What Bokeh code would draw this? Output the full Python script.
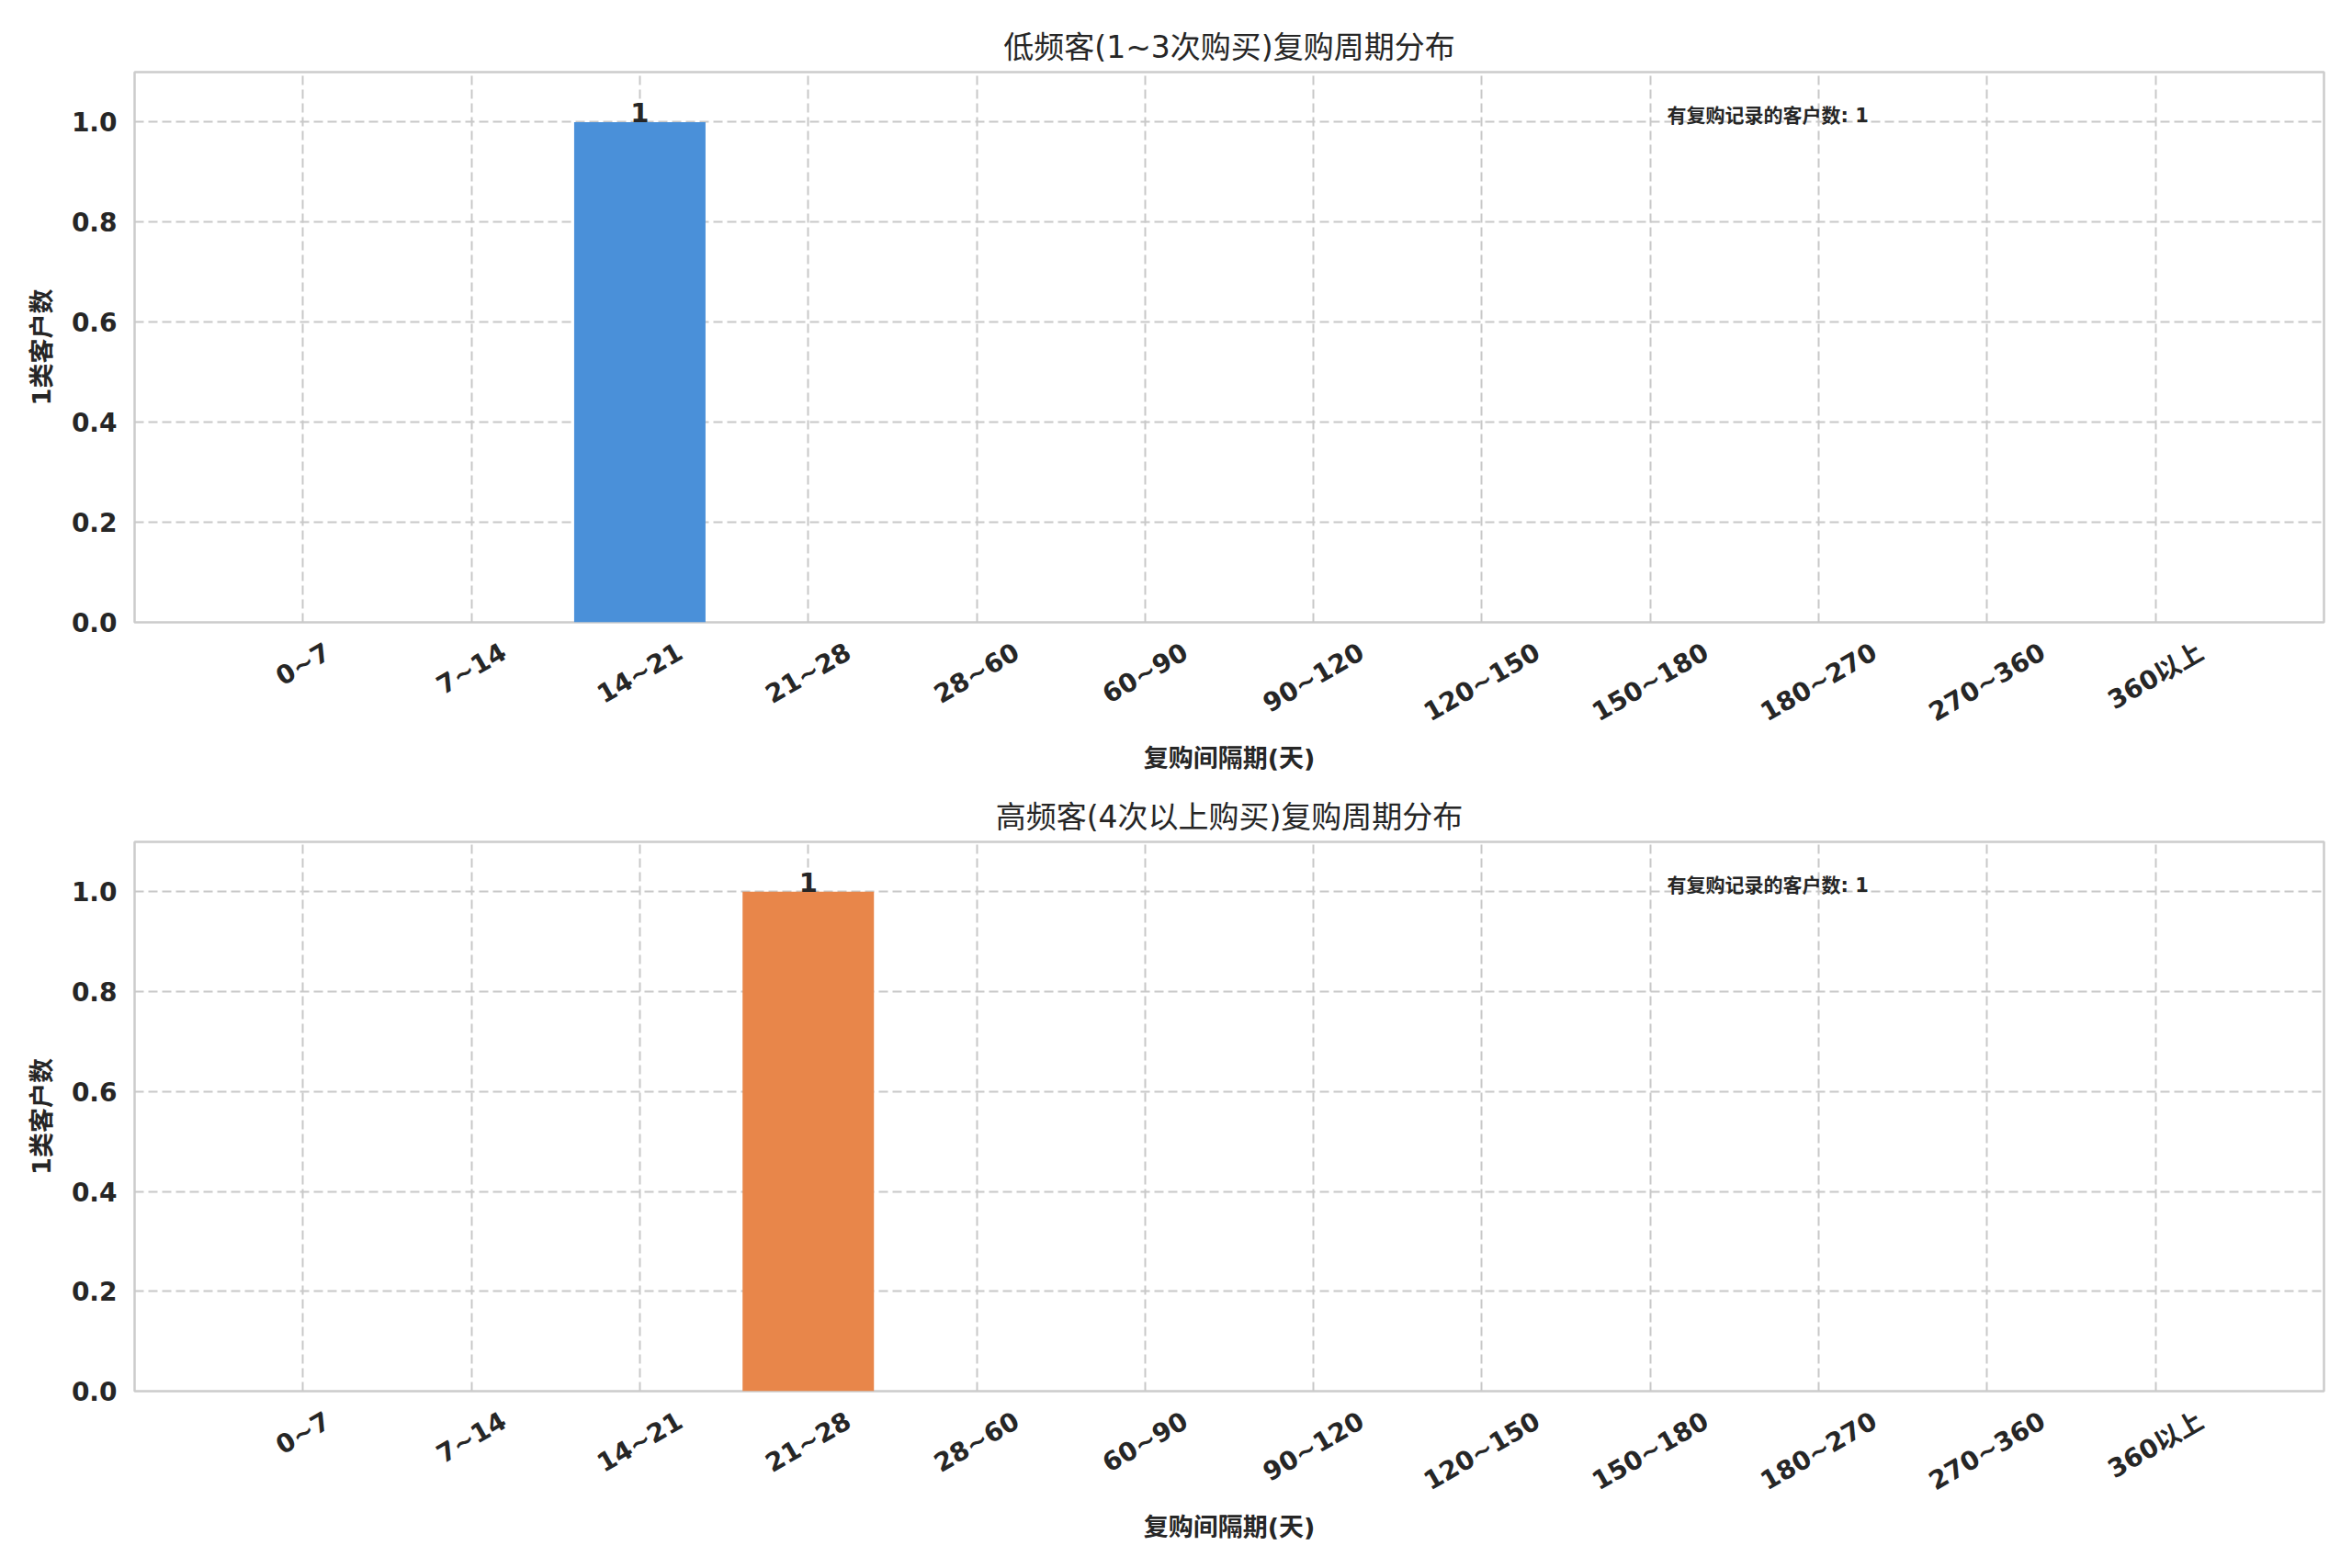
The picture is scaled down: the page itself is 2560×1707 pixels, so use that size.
import math
from bokeh.plotting import figure
from bokeh.layouts import column
from bokeh.models import FixedTicker, ColumnDataSource, Label, NumeralTickFormatter, Range1d
from bokeh.embed import file_html
from bokeh.resources import INLINE
from bokeh.core.properties import value

# ---- data ----
bins = ["0~7", "7~14", "14~21", "21~28", "28~60", "60~90", "90~120",
        "120~150", "150~180", "180~270", "270~360", "360以上"]
counts_low = [0, 0, 1, 0, 0, 0, 0, 0, 0, 0, 0, 0]
counts_high = [0, 0, 0, 1, 0, 0, 0, 0, 0, 0, 0, 0]
titles = ["低频客(1~3次购买)复购周期分布", "高频客(4次以上购买)复购周期分布"]
bar_colors = ["#4A90D9", "#E8864A"]
x_label = "复购间隔期(天)"
y_label = "1类客户数"
note_label = "有复购记录的客户数"
y_ticks = [0.0, 0.2, 0.4, 0.6, 0.8, 1.0]

FONT = "DejaVu Sans, Noto Sans CJK SC"
TXT = "#262626"
FRAME_W = 2383
TICK_PX = 28
ANGLE = math.pi / 6


def text_width_em(s):
    w = 0.0
    for ch in s:
        if ch.isdigit():
            w += 0.696
        elif ch == "~":
            w += 0.838
        elif ord(ch) > 0x2E80:
            w += 1.0
        else:
            w += 0.6
    return w


def make_fig(title, counts, color, b_top, b_bottom, f_height):
    n = len(bins)
    p = figure(frame_width=FRAME_W, frame_height=f_height,
               x_range=Range1d(-1, n), y_range=Range1d(0, 1.1),
               output_backend="svg", toolbar_location=None,
               min_border_left=146, min_border_right=23,
               min_border_top=b_top, min_border_bottom=b_bottom,
               background_fill_color="white", border_fill_color="white")
    p.title.text = title
    p.title.align = "center"
    p.title.text_font = FONT
    p.title.text_font_size = "33px"
    p.title.text_font_style = "normal"
    p.title.text_color = TXT
    p.title.standoff = 15

    xs = list(range(n))
    src = ColumnDataSource(dict(x=xs, top=counts))
    p.vbar(x="x", top="top", width=0.78, source=src,
           fill_color=color, line_color=None)

    lab_x = [i for i, c in zip(xs, counts) if c > 0]
    lab_y = [c for c in counts if c > 0]
    lab_t = [str(c) for c in counts if c > 0]
    p.text(x=lab_x, y=lab_y, text=lab_t, text_align="center",
           text_baseline="bottom", text_font=value(FONT),
           text_font_size="29px", text_font_style="bold", text_color=TXT)

    total = sum(counts)
    p.add_layout(Label(x=-1 + 0.7 * (n + 1), y=0.99, text=f"{note_label}: {total}",
                       text_font=FONT, text_font_size="21px",
                       text_font_style="bold", text_color=TXT,
                       text_baseline="bottom"))

    # rotated labels are right-anchored at the tick in Bokeh; shift so they centre on the bar
    px_per_unit = FRAME_W / (n + 1)
    label_ticks = []
    overrides = {}
    for i, b in enumerate(bins):
        shift = 0.5 * text_width_em(b) * TICK_PX * math.cos(ANGLE) / px_per_unit
        t = round(i + shift, 6)
        label_ticks.append(t)
        overrides[t] = b
    p.xaxis.ticker = FixedTicker(ticks=label_ticks)
    p.xaxis.major_label_overrides = overrides
    p.xaxis.major_label_orientation = ANGLE
    p.xgrid.ticker = FixedTicker(ticks=xs)
    p.yaxis.ticker = FixedTicker(ticks=y_ticks)
    p.yaxis.formatter = NumeralTickFormatter(format="0.0")

    for ax in (p.xaxis[0], p.yaxis[0]):
        ax.major_label_text_font = FONT
        ax.major_label_text_font_size = f"{TICK_PX}px"
        ax.major_label_text_font_style = "bold"
        ax.major_label_text_color = TXT
        ax.axis_label_text_font = FONT
        ax.axis_label_text_font_size = "27px"
        ax.axis_label_text_font_style = "bold"
        ax.axis_label_text_color = TXT
        ax.major_tick_line_color = None
        ax.minor_tick_line_color = None
        ax.axis_line_color = None
    p.xaxis.axis_label = x_label
    p.yaxis.axis_label = y_label
    p.xaxis.major_label_standoff = 24
    p.yaxis.major_label_standoff = 13
    p.xaxis.axis_label_standoff = 1
    p.yaxis.axis_label_standoff = 14

    p.grid.grid_line_color = "#c8c8c8"
    p.grid.grid_line_dash = "10 5"
    p.grid.grid_line_width = 2
    p.outline_line_color = "#cccccc"
    p.outline_line_width = 2.5
    return p


p1 = make_fig(titles[0], counts_low, bar_colors[0], 78, 178, 599)
p2 = make_fig(titles[1], counts_high, bar_colors[1], 61, 185, 598)
layout = column(p1, p2, spacing=0)

open("out.html", "w").write(file_html(layout, INLINE))
